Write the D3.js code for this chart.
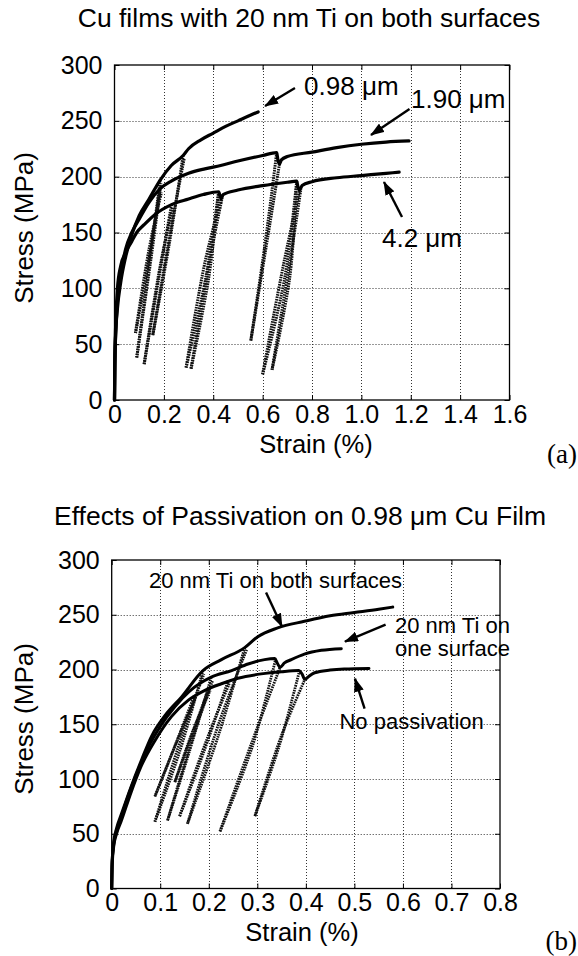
<!DOCTYPE html>
<html><head><meta charset="utf-8">
<script src="https://cdn.jsdelivr.net/npm/d3@7"></script>
<style>
body{margin:0;background:#fff}
svg{display:block}
text{font-family:"Liberation Sans",Arial,Helvetica,sans-serif;fill:#000}
</style>
</head><body><svg id="chart" width="578" height="956"></svg>
<script>
// ---------- shared axis data ----------
const stressTicks = [0, 50, 100, 150, 200, 250, 300];
const stressLabels = ["0", "50", "100", "150", "200", "250", "300"];
const strainTicksA = [0, 0.2, 0.4, 0.6, 0.8, 1.0, 1.2, 1.4, 1.6];
const strainLabelsA = ["0", "0.2", "0.4", "0.6", "0.8", "1.0", "1.2", "1.4", "1.6"];
const strainTicksB = [0, 0.1, 0.2, 0.3, 0.4, 0.5, 0.6, 0.7, 0.8];
const strainLabelsB = ["0", "0.1", "0.2", "0.3", "0.4", "0.5", "0.6", "0.7", "0.8"];

// ---------- panel (a): Cu films with 20 nm Ti on both surfaces ----------
// loading envelopes [strain %, stress MPa]
const a098Env = [[0,0],[0.001,25],[0.004,55],[0.012,82],[0.025,105],[0.045,128],[0.07,148],[0.1,165],[0.14,180],[0.185,197],[0.23,210],[0.278,219],[0.3,225],[0.35,233],[0.4,239],[0.45,245],[0.5,250],[0.55,255],[0.582,258]];
const a190Env = [[0,0],[0.001,30],[0.005,60],[0.012,88],[0.025,112],[0.045,135],[0.07,150],[0.1,162],[0.14,177],[0.184,189],[0.23,196],[0.3,203],[0.366,207],[0.43,210],[0.5,214],[0.6,219],[0.657,221.5],[0.662,215],[0.668,211],[0.676,215],[0.7,218],[0.8,222],[0.9,226],[1.0,229],[1.1,231],[1.193,232]];
const a42Env = [[0,0],[0.002,40],[0.006,75],[0.012,100],[0.025,120],[0.045,132],[0.07,142],[0.09,150],[0.12,157],[0.163,166],[0.231,175],[0.3,180],[0.36,184],[0.422,186.5],[0.427,183],[0.432,180],[0.44,184],[0.5,188],[0.6,192],[0.7,195],[0.738,196],[0.743,191],[0.75,188],[0.76,192],[0.8,195.5],[0.9,199],[1.0,201],[1.1,203],[1.153,204]];
// unload / reload cycles
const a098Unload = [
  [[0.185,197],[0.14,120],[0.09,38]],
  [[0.278,219],[0.222,140],[0.155,58]]
];
const a098Reload = [
  [[0.09,38],[0.15,130],[0.188,194]],
  [[0.155,58],[0.226,150],[0.282,216]]
];
const a190Unload = [
  [[0.184,189],[0.135,120],[0.085,60]],
  [[0.657,221.5],[0.61,140],[0.552,53]]
];
const a190Reload = [
  [[0.085,60],[0.14,135],[0.19,186]],
  [[0.552,53],[0.62,145],[0.668,211]]
];
const a42Unload = [
  [[0.231,175],[0.18,110],[0.12,32]],
  [[0.422,186.5],[0.37,110],[0.29,29]],
  [[0.422,186.5],[0.382,110],[0.31,28]],
  [[0.738,196],[0.69,110],[0.6,23]],
  [[0.738,196],[0.71,110],[0.638,27]]
];
const a42Reload = [
  [[0.12,32],[0.185,120],[0.235,172]],
  [[0.29,29],[0.368,125],[0.432,180]],
  [[0.31,28],[0.385,125],[0.436,181]],
  [[0.6,23],[0.688,125],[0.75,188]],
  [[0.638,27],[0.715,130],[0.755,189]]
];
const annotA = [
  {text: "0.98 \u03bcm", s: 0.768, m: 273, from: [0.731, 279.4], to: [0.61, 263.3]},
  {text: "1.90 \u03bcm", s: 1.201, m: 261.5, from: [1.195, 260.6], to: [1.039, 237.3]},
  {text: "4.2 \u03bcm", s: 1.0835, m: 137, from: [1.1646, 163.9], to: [1.0917, 195.2]}
];

// ---------- panel (b): Effects of passivation on 0.98 um Cu film ----------
const bBothEnv = [[0,0],[0.001,25],[0.004,42],[0.01,55],[0.02,68],[0.04,93],[0.062,118],[0.082,139],[0.11,158],[0.144,175],[0.188,199],[0.226,209],[0.274,220],[0.301,230],[0.342,238],[0.397,244],[0.45,249],[0.5,252],[0.55,255],[0.579,257]];
const bOneEnv = [[0,0],[0.001,25],[0.004,40],[0.01,52],[0.02,66],[0.04,92],[0.06,114],[0.08,133],[0.1,148],[0.13,166],[0.16,180],[0.205,193],[0.247,199],[0.281,205],[0.315,209],[0.336,210],[0.341,206],[0.347,202],[0.356,206],[0.37,209],[0.397,214],[0.432,217.5],[0.473,219]];
const bNoneEnv = [[0,0],[0.001,22],[0.004,38],[0.01,50],[0.02,62],[0.04,88],[0.06,111],[0.089,135],[0.123,157],[0.158,172],[0.192,181],[0.226,187],[0.26,192],[0.308,196],[0.35,198],[0.385,199],[0.392,196],[0.398,191],[0.404,193],[0.418,197],[0.45,199.5],[0.479,200.5],[0.53,201]];
const bBothUnload = [
  [[0.188,199],[0.14,125],[0.089,61]],
  [[0.274,220],[0.22,140],[0.156,59]]
];
const bBothReload = [
  [[0.089,61],[0.145,140],[0.19,196]],
  [[0.156,59],[0.22,150],[0.278,218]]
];
const bOneUnload = [
  [[0.205,193],[0.16,125],[0.115,62]],
  [[0.338,210],[0.29,130],[0.223,52]]
];
const bOneReload = [
  [[0.115,62],[0.165,135],[0.208,190]],
  [[0.223,52],[0.29,135],[0.347,202]]
];
const bNoneUnload = [
  [[0.17,176],[0.13,130],[0.089,84]],
  [[0.2,183],[0.165,140],[0.13,97]],
  [[0.24,190],[0.19,125],[0.14,66]],
  [[0.387,199],[0.345,130],[0.295,66]]
];
const bNoneReload = [
  [[0.089,84],[0.135,135],[0.172,174]],
  [[0.13,97],[0.168,145],[0.203,181]],
  [[0.14,66],[0.195,135],[0.243,188]],
  [[0.295,66],[0.35,140],[0.398,191]]
];
const annotB = [
  {text: "20 nm Ti on both surfaces", s: 0.0768, m: 274.4, from: [0.318, 270.3], to: [0.3508, 239.2]},
  {text: "20 nm Ti on", s: 0.5836, m: 233.7, from: [0.5643, 241.0], to: [0.4806, 225.5]},
  {text: "one surface", s: 0.5836, m: 212.2},
  {text: "No passivation", s: 0.4693, m: 145.4, from: [0.521, 164.2], to: [0.5012, 191.6]}
];

// ---------- drawing ----------
const svg = d3.select("#chart");
const defs = svg.append("defs");
defs.append("marker").attr("id", "arrow")
  .attr("markerUnits", "userSpaceOnUse")
  .attr("viewBox", "0 0 14 10").attr("markerWidth", 14).attr("markerHeight", 10)
  .attr("refX", 13).attr("refY", 5).attr("orient", "auto")
  .append("path").attr("d", "M0,0 L14,5 L0,10 z").attr("fill", "#000");

function drawPanel(cfg) {
  const g = svg.append("g");
  const x = d3.scaleLinear().domain(cfg.xDomain).range([cfg.left, cfg.right]);
  const y = d3.scaleLinear().domain([0, 300]).range([cfg.bottom, cfg.top]);

  // title
  g.append("text").attr("x", cfg.titleX).attr("y", cfg.titleY)
    .attr("text-anchor", "middle").style("font-size", "26.5px").text(cfg.title);

  // grid
  const gridG = g.append("g").attr("stroke", "#333").attr("stroke-width", 1)
    .attr("stroke-dasharray", "1,2");
  gridG.selectAll(".gx").data(cfg.xTicks.slice(1, -1)).join("line")
    .attr("x1", d => Math.round(x(d)) + 0.5).attr("x2", d => Math.round(x(d)) + 0.5)
    .attr("y1", cfg.top).attr("y2", cfg.bottom);
  gridG.selectAll(".gy").data(stressTicks.slice(1, -1)).join("line")
    .attr("y1", d => Math.round(y(d)) + 0.5).attr("y2", d => Math.round(y(d)) + 0.5)
    .attr("x1", cfg.left).attr("x2", cfg.right);

  // axes with inward ticks
  const xAxis = d3.axisBottom(x).tickValues(cfg.xTicks).tickSizeInner(-5).tickSizeOuter(0)
    .tickFormat((d, i) => cfg.xLabels[i]).tickPadding(5);
  const ax = g.append("g").attr("transform", `translate(0,${cfg.bottom})`).call(xAxis);
  ax.select(".domain").remove();
  ax.selectAll("text").style("font-size", "25px").attr("font-family", null).attr("dy", "0.71em");
  const xTop = d3.axisTop(x).tickValues(cfg.xTicks).tickSizeInner(-5).tickSizeOuter(0).tickFormat("");
  const axt = g.append("g").attr("transform", `translate(0,${cfg.top})`).call(xTop);
  axt.select(".domain").remove();

  const yAxis = d3.axisLeft(y).tickValues(stressTicks).tickSizeInner(-5).tickSizeOuter(0)
    .tickFormat((d, i) => stressLabels[i]).tickPadding(12);
  const ay = g.append("g").attr("transform", `translate(${cfg.left},0)`).call(yAxis);
  ay.select(".domain").remove();
  ay.selectAll("text").style("font-size", "25px").attr("font-family", null);
  const yRight = d3.axisRight(y).tickValues(stressTicks).tickSizeInner(-5).tickSizeOuter(0).tickFormat("");
  const ayr = g.append("g").attr("transform", `translate(${cfg.right},0)`).call(yRight);
  ayr.select(".domain").remove();
  g.selectAll(".tick line").attr("stroke", "#000");

  // frame
  g.append("rect").attr("x", cfg.left).attr("y", cfg.top)
    .attr("width", cfg.right - cfg.left).attr("height", cfg.bottom - cfg.top)
    .attr("fill", "none").attr("stroke", "#000").attr("stroke-width", 1.3);

  // axis titles
  g.append("text").attr("transform", `translate(${cfg.yLabelX},${cfg.yLabelY}) rotate(-90)`)
    .attr("text-anchor", "middle").style("font-size", "26px").text("Stress (MPa)");
  g.append("text").attr("x", cfg.xLabelX).attr("y", cfg.xLabelY)
    .attr("text-anchor", "middle").style("font-size", "25.5px").text("Strain (%)");
  g.append("text").attr("x", 577).attr("y", cfg.tagY).attr("text-anchor", "end")
    .style("font-family", "'Liberation Serif','Times New Roman',serif").style("font-size", "27px")
    .text(cfg.tag);

  // data
  const envLine = d3.line().x(d => x(d[0])).y(d => y(d[1])).curve(d3.curveMonotoneX);
  const cycLine = d3.line().x(d => x(d[0])).y(d => y(d[1])).curve(d3.curveCatmullRom.alpha(0.5));
  const dataG = g.append("g").attr("fill", "none").attr("stroke-linecap", "round").attr("stroke-linejoin", "round");
  cfg.series.forEach(s => {
    [...s.unload, ...s.reload].forEach(c => {
      dataG.append("path").attr("d", cycLine(c)).attr("stroke", "#111")
        .attr("stroke-width", cfg.cycWidth).attr("stroke-dasharray", "1.6,0.9")
        .attr("stroke-linecap", "butt");
    });
  });
  cfg.series.forEach(s => {
    dataG.append("path").attr("d", envLine(s.env)).attr("stroke", "#000").attr("stroke-width", cfg.envWidth);
  });

  // annotations
  cfg.annot.forEach(a => {
    g.append("text").attr("x", x(a.s)).attr("y", y(a.m))
      .style("font-size", cfg.annotSize).text(a.text);
    if (a.from) {
      g.append("line").attr("x1", x(a.from[0])).attr("y1", y(a.from[1]))
        .attr("x2", x(a.to[0])).attr("y2", y(a.to[1]))
        .attr("stroke", "#000").attr("stroke-width", 2.4).attr("marker-end", "url(#arrow)");
    }
  });
}

drawPanel({
  title: "Cu films with 20 nm Ti on both surfaces", titleX: 309, titleY: 27,
  left: 114.5, right: 509.5, top: 65, bottom: 400,
  xDomain: [0, 1.6], xTicks: strainTicksA, xLabels: strainLabelsA,
  yLabelX: 33, yLabelY: 228, xLabelX: 316, xLabelY: 453, tag: "(a)", tagY: 463,
  envWidth: 3.2, cycWidth: 3, annotSize: "26px",
  series: [
    {env: a42Env, unload: a42Unload, reload: a42Reload},
    {env: a190Env, unload: a190Unload, reload: a190Reload},
    {env: a098Env, unload: a098Unload, reload: a098Reload}
  ],
  annot: annotA
});

drawPanel({
  title: "Effects of Passivation on 0.98 \u03bcm Cu Film", titleX: 300, titleY: 525,
  left: 111.7, right: 500, top: 560, bottom: 888.5,
  xDomain: [0, 0.8], xTicks: strainTicksB, xLabels: strainLabelsB,
  yLabelX: 33, yLabelY: 719, xLabelX: 302, xLabelY: 941, tag: "(b)", tagY: 950,
  envWidth: 3, cycWidth: 2.8, annotSize: "22px",
  series: [
    {env: bNoneEnv, unload: bNoneUnload, reload: bNoneReload},
    {env: bOneEnv, unload: bOneUnload, reload: bOneReload},
    {env: bBothEnv, unload: bBothUnload, reload: bBothReload}
  ],
  annot: annotB
});
</script>
</body></html>
